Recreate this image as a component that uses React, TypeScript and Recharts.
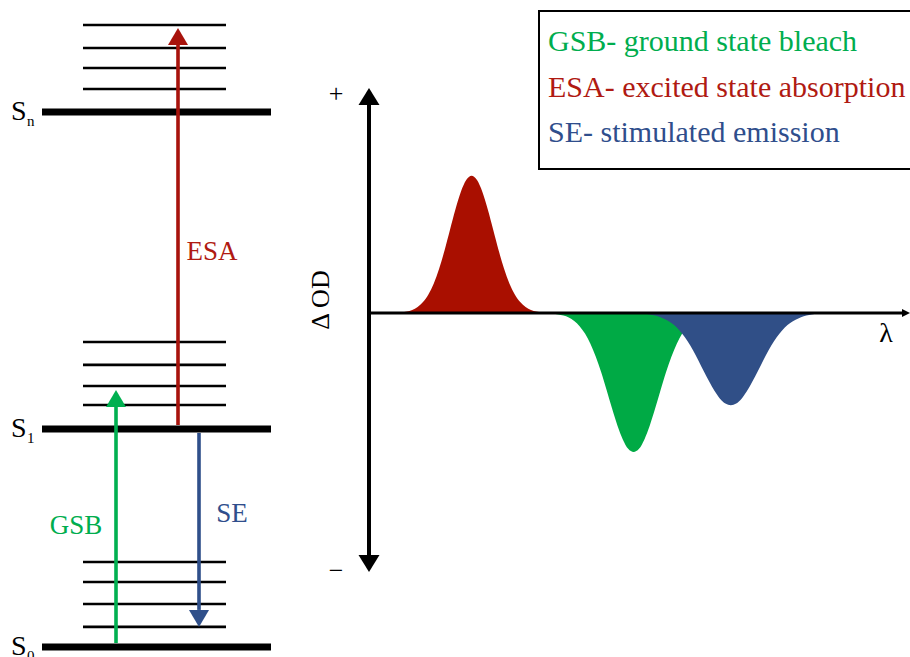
import React from 'react';
import { ComposedChart, XAxis, YAxis, Area, ReferenceLine } from 'recharts';

const FONT = "'Liberation Serif', 'Times New Roman', serif";

// ---------- Jablonski diagram (energy in arbitrary units) ----------
const stateSubscripts = ['0', '1', 'n'];
const stateEnergies = [0, 1.0, 2.454];
const vibrationalS0 = [0.092, 0.197, 0.298, 0.39];
const vibrationalS1 = [1.11, 1.197, 1.294, 1.399];
const vibrationalSn = [2.56, 2.656, 2.748, 2.853];

const transitionNames = ['GSB', 'ESA', 'SE'];
const transitionFrom = [0.018, 1.018, 0.982];
const transitionTo = [1.179, 2.84, 0.092];

// ---------- Transient absorption spectrum (ΔOD vs λ, arbitrary units) ----------
const esaLambda = [4, 5, 6, 7, 8, 9, 10, 11, 12, 13, 14, 15, 16, 17, 18, 19, 20, 21, 22, 23, 24, 25, 26, 27, 28, 29, 30, 31, 32, 33, 34];
const esaDeltaOD = [0, 0.001, 0.003, 0.007, 0.014, 0.027, 0.049, 0.083, 0.132, 0.198, 0.279, 0.37, 0.46, 0.538, 0.591, 0.61, 0.591, 0.538, 0.46, 0.37, 0.279, 0.198, 0.132, 0.083, 0.049, 0.027, 0.014, 0.007, 0.003, 0.001, 0];

const gsbLambda = [32, 33, 34, 35, 36, 37, 38, 39, 40, 41, 42, 43, 44, 45, 46, 47, 48, 49, 50, 51, 52, 53, 54, 55, 56, 57, 58, 59, 60, 61, 62, 63, 64, 65, 66];
const gsbDeltaOD = [0, -0.001, -0.003, -0.006, -0.011, -0.02, -0.035, -0.058, -0.091, -0.136, -0.194, -0.263, -0.342, -0.423, -0.499, -0.561, -0.603, -0.617, -0.603, -0.561, -0.499, -0.423, -0.342, -0.263, -0.194, -0.136, -0.091, -0.058, -0.035, -0.02, -0.011, -0.006, -0.003, -0.001, 0];

const seLambda = [49, 50, 51, 52, 53, 54, 55, 56, 57, 58, 59, 60, 61, 62, 63, 64, 65, 66, 67, 68, 69, 70, 71, 72, 73, 74, 75, 76, 77, 78, 79, 80, 81, 82, 83, 84, 85];
const seDeltaOD = [0, -0.001, -0.003, -0.006, -0.011, -0.018, -0.029, -0.044, -0.064, -0.092, -0.125, -0.165, -0.21, -0.258, -0.304, -0.346, -0.38, -0.402, -0.409, -0.402, -0.38, -0.346, -0.304, -0.258, -0.21, -0.165, -0.125, -0.092, -0.064, -0.044, -0.029, -0.018, -0.011, -0.006, -0.003, -0.001, 0];

const legendLabels = ['GSB- ground state bleach', 'ESA- excited state absorption', 'SE- stimulated emission'];

// ---------- build spectrum table ----------
const rowMap = new Map<number, any>();
const addSeries = (lams: number[], vals: number[], key: string) => {
  lams.forEach((l, i) => {
    const r = rowMap.get(l) ?? { lambda: l };
    r[key] = vals[i];
    rowMap.set(l, r);
  });
};
addSeries(esaLambda, esaDeltaOD, 'esa');
addSeries(gsbLambda, gsbDeltaOD, 'gsb');
addSeries(seLambda, seDeltaOD, 'se');
const spectrum = Array.from(rowMap.values()).sort((a, b) => a.lambda - b.lambda);

// ---------- styles ----------
const COLORS = {
  esaFill: '#a90f00',
  gsbFill: '#00aa45',
  seFill: '#304f87',
  esaArrow: '#a8130c',
  gsbArrow: '#00b050',
  seArrow: '#2f4f8a',
  esaText: '#b01a12',
  gsbText: '#00ad4e',
  seText: '#2f4e8c',
};
const transitionStyle: Record<string, any> = {
  GSB: { color: COLORS.gsbArrow, text: COLORS.gsbText, dx: -40, dy: 17.5 },
  ESA: { color: COLORS.esaArrow, text: COLORS.esaText, dx: 34, dy: 33.5 },
  SE: { color: COLORS.seArrow, text: COLORS.seText, dx: 33, dy: -8 },
};

const LEVEL_LEFT = 42;
const LEVEL_RIGHT = 271;
const VIB_LEFT = 83;
const VIB_RIGHT = 226;
const ARROW_X: Record<string, number> = { GSB: 116, ESA: 178, SE: 199 };

const makeStateShape = (sub: string) => (props: any) => {
  const { x1, y1, x2, y2 } = props;
  return (
    <g>
      <line x1={x1} y1={y1} x2={x2} y2={y2} stroke="#000" strokeWidth={7} />
      <text x={x1 - 31} y={y1 + 8} fontFamily={FONT} fontSize={28} fill="#000">S</text>
      <text x={x1 - 15} y={y1 + 14} fontFamily={FONT} fontSize={15} fill="#000">{sub}</text>
    </g>
  );
};

const vibShape = (props: any) => {
  const { x1, y1, x2, y2 } = props;
  return <line x1={x1} y1={y1} x2={x2} y2={y2} stroke="#000" strokeWidth={2.6} />;
};

const makeArrowShape = (name: string) => (props: any) => {
  const { x1, y1, x2, y2 } = props;
  const st = transitionStyle[name];
  const dir = Math.sign(y2 - y1);
  const headLen = 17;
  const half = 10;
  const baseY = y2 - dir * headLen;
  return (
    <g>
      <line x1={x1} y1={y1} x2={x2} y2={baseY} stroke={st.color} strokeWidth={3.6} />
      <polygon points={`${x2},${y2} ${x2 - half},${baseY} ${x2 + half},${baseY}`} fill={st.color} />
      <text x={x1 + st.dx} y={(y1 + y2) / 2 + st.dy} textAnchor="middle" fontFamily={FONT} fontSize={27} fill={st.text}>
        {name}
      </text>
    </g>
  );
};

const yAxisShape = (props: any) => {
  const { x1, y1, y2 } = props;
  const top = Math.min(y1, y2);
  const bot = Math.max(y1, y2);
  const h = 17;
  const half = 10.5;
  const x = x1;
  return (
    <g>
      <line x1={x} y1={top + h} x2={x} y2={bot - h} stroke="#000" strokeWidth={4} />
      <polygon points={`${x},${top} ${x - half},${top + h} ${x + half},${top + h}`} fill="#000" />
      <polygon points={`${x},${bot} ${x - half},${bot - h} ${x + half},${bot - h}`} fill="#000" />
      <text x={x - 33} y={top + 14} textAnchor="middle" fontFamily={FONT} fontSize={26} fill="#000">+</text>
      <text x={x - 33} y={bot + 7} textAnchor="middle" fontFamily={FONT} fontSize={26} fill="#000">−</text>
      <text
        x={x - 40}
        y={(top + bot) / 2 - 30}
        textAnchor="middle"
        fontFamily={FONT}
        fontSize={26}
        fill="#000"
        transform={`rotate(-90 ${x - 40} ${(top + bot) / 2 - 30})`}
      >
        Δ OD
      </text>
    </g>
  );
};

const xAxisShape = (props: any) => {
  const { x1, y1, x2 } = props;
  const left = Math.min(x1, x2);
  const right = Math.max(x1, x2);
  return (
    <g>
      <line x1={left} y1={y1} x2={right - 4} y2={y1} stroke="#000" strokeWidth={3} />
      <polygon points={`${right + 1},${y1} ${right - 7},${y1 - 4} ${right - 7},${y1 + 4}`} fill="#000" />
      <text x={right - 23} y={y1 + 29} textAnchor="middle" fontFamily={FONT} fontSize={28} fill="#000">λ</text>
    </g>
  );
};

const legendColors = [COLORS.gsbText, COLORS.esaText, COLORS.seText];

export default function App() {
  const vibLevels = [...vibrationalS0, ...vibrationalS1, ...vibrationalSn];
  return (
    <div style={{ position: 'absolute', left: 0, top: 0, width: 910, height: 657, background: '#fff', overflow: 'hidden', fontFamily: FONT }}>
      <div style={{ position: 'absolute', left: 0, top: 0 }}>
        <ComposedChart width={300} height={657} margin={{ top: 0, right: 0, bottom: 0, left: 0 }} data={[]}>
          <XAxis type="number" dataKey="x" domain={[0, 300]} allowDataOverflow hide />
          <YAxis type="number" domain={[-0.046, 2.968]} allowDataOverflow hide />
          {vibLevels.map((e, i) => (
            <ReferenceLine
              key={`vib-${i}`}
              segment={[{ x: VIB_LEFT, y: e }, { x: VIB_RIGHT, y: e }]}
              ifOverflow="visible"
              shape={vibShape}
            />
          ))}
          {stateEnergies.map((e, i) => (
            <ReferenceLine
              key={`state-${i}`}
              segment={[{ x: LEVEL_LEFT, y: e }, { x: LEVEL_RIGHT, y: e }]}
              ifOverflow="visible"
              shape={makeStateShape(stateSubscripts[i])}
            />
          ))}
          {transitionNames.map((n, i) => (
            <ReferenceLine
              key={`tr-${n}`}
              segment={[{ x: ARROW_X[n], y: transitionFrom[i] }, { x: ARROW_X[n], y: transitionTo[i] }]}
              ifOverflow="visible"
              shape={makeArrowShape(n)}
            />
          ))}
        </ComposedChart>
      </div>
      <div style={{ position: 'absolute', left: 300, top: 0 }}>
        <ComposedChart width={610} height={657} margin={{ top: 88, right: 1, bottom: 85, left: 69 }} data={spectrum}>
          <XAxis type="number" dataKey="lambda" domain={[0, 100]} allowDataOverflow hide />
          <YAxis type="number" domain={[-1.15, 1.0]} allowDataOverflow hide />
          <Area dataKey="esa" type="monotone" fill={COLORS.esaFill} fillOpacity={1} stroke="none" baseValue={0} isAnimationActive={false} dot={false} activeDot={false} />
          <Area dataKey="gsb" type="monotone" fill={COLORS.gsbFill} fillOpacity={1} stroke="none" baseValue={0} isAnimationActive={false} dot={false} activeDot={false} />
          <Area dataKey="se" type="monotone" fill={COLORS.seFill} fillOpacity={1} stroke="none" baseValue={0} isAnimationActive={false} dot={false} activeDot={false} />
          <ReferenceLine y={0} ifOverflow="visible" shape={xAxisShape} />
          <ReferenceLine x={0} ifOverflow="visible" shape={yAxisShape} />
        </ComposedChart>
      </div>
      <svg width={910} height={657} style={{ position: 'absolute', left: 0, top: 0, pointerEvents: 'none' }}>
        <rect x={539} y={11} width={380} height={158} fill="none" stroke="#000" strokeWidth={2} />
        {legendLabels.map((t, i) => (
          <text key={t} x={548} y={51 + i * 45.5} fontFamily={FONT} fontSize={30} fill={legendColors[i]}>
            {t}
          </text>
        ))}
      </svg>
    </div>
  );
}
